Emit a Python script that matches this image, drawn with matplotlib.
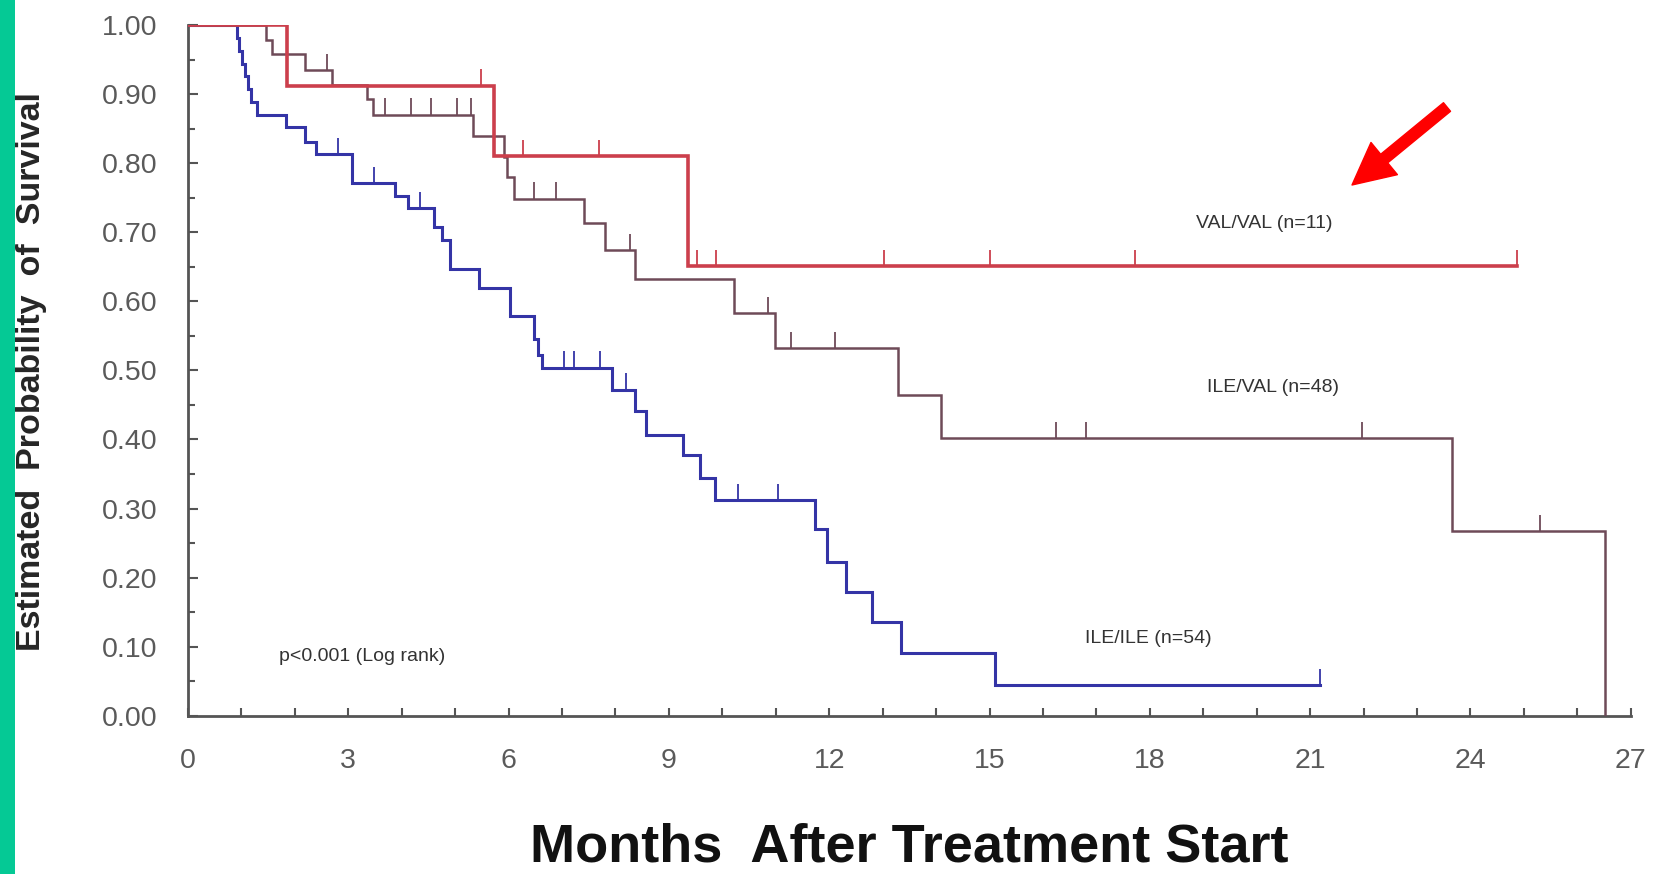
import matplotlib
matplotlib.use("Agg")
import matplotlib.pyplot as plt
import numpy as np
from matplotlib.ticker import MultipleLocator, FormatStrFormatter

# Kaplan-Meier step curves: event times (months) and survival after each step
ile_ile_t = [0, 0.91, 0.96, 1.01, 1.06, 1.12, 1.18, 1.30, 1.84, 2.20, 2.40, 3.07,
             3.88, 4.11, 4.61, 4.75, 4.91, 5.45, 6.02, 6.48, 6.55, 6.62, 7.94,
             8.37, 8.58, 9.26, 9.58, 9.86, 11.73, 11.95, 12.31, 12.81, 13.35,
             15.10, 21.18]
ile_ile_s = [1.0, 0.981, 0.963, 0.944, 0.926, 0.907, 0.889, 0.870, 0.852, 0.831,
             0.813, 0.771, 0.752, 0.735, 0.708, 0.689, 0.647, 0.620, 0.579, 0.545,
             0.522, 0.504, 0.472, 0.441, 0.407, 0.378, 0.344, 0.312, 0.271, 0.223,
             0.179, 0.136, 0.090, 0.044, 0.044]
ile_ile_cens = [2.81, 3.48, 4.34, 7.04, 7.22, 7.72, 8.19, 10.29, 11.05, 21.18]

ile_val_t = [0, 1.47, 1.57, 2.19, 2.69, 3.35, 3.47, 5.34, 5.91, 5.97, 6.11, 7.41,
             7.81, 8.37, 10.22, 10.98, 13.28, 14.10, 23.65, 26.51]
ile_val_s = [1.0, 0.979, 0.958, 0.935, 0.913, 0.893, 0.870, 0.840, 0.809, 0.780,
             0.749, 0.713, 0.674, 0.633, 0.583, 0.532, 0.465, 0.402, 0.267, 0.0]
ile_val_cens = [2.60, 3.68, 4.18, 4.55, 5.04, 5.29, 6.48, 6.89, 8.28, 10.85,
                11.28, 12.10, 16.25, 16.80, 21.97, 25.30]

val_val_t = [0, 1.85, 5.72, 9.36, 24.87]
val_val_s = [1.0, 0.912, 0.810, 0.651, 0.651]
val_val_cens = [5.48, 6.27, 7.70, 9.52, 9.89, 13.03, 15.01, 17.72, 24.87]

groups = [
    ("ILE/ILE (n=54)", ile_ile_t, ile_ile_s, ile_ile_cens, "#3434a6", 2.2, (17.97, 0.112)),
    ("ILE/VAL (n=48)", ile_val_t, ile_val_s, ile_val_cens, "#6e4a58", 1.8, (20.30, 0.476)),
    ("VAL/VAL (n=11)", val_val_t, val_val_s, val_val_cens, "#cc3f4c", 2.6, (20.15, 0.713)),
]

x_ticks = list(range(0, 28, 3))
y_ticks = [0.0, 0.1, 0.2, 0.3, 0.4, 0.5, 0.6, 0.7, 0.8, 0.9, 1.0]

W, H = 1655, 874
fig = plt.figure(figsize=(W / 100, H / 100), dpi=100)
fig.patch.set_facecolor("white")

# green strip on the left edge
fig.patches.append(plt.Rectangle((0, 0), 15 / W, 1, transform=fig.transFigure,
                                 facecolor="#05c995", edgecolor="none"))

ax = fig.add_axes([187.9 / W, 1 - 715.6 / H, (1630.8 - 187.9) / W, (715.6 - 25.3) / H])

for label, t, s, cens, col, lw, pos in groups:
    ax.step(t, s, where="post", color=col, lw=lw, solid_joinstyle="miter", zorder=3)
    t_arr = np.array(t)
    s_arr = np.array(s)
    for c in cens:
        lvl = s_arr[np.searchsorted(t_arr, c, side="right") - 1]
        ax.vlines(c, lvl, lvl + 0.024, color=col, lw=1.3, zorder=3)
    ax.text(pos[0], pos[1], label, ha="center", va="center", fontsize=14,
            family="Liberation Sans", color="#333333")

ax.text(3.26, 0.086, "p<0.001 (Log rank)", ha="center", va="center", fontsize=14,
        family="Liberation Sans", color="#333333")

ax.set_xlim(0, 27)
ax.set_ylim(0, 1.0)
ax.set_xticks(x_ticks)
ax.xaxis.set_minor_locator(MultipleLocator(1))
ax.set_yticks(y_ticks)
ax.yaxis.set_minor_locator(MultipleLocator(0.05))
ax.yaxis.set_major_formatter(FormatStrFormatter("%.2f"))

for sp in ["top", "right"]:
    ax.spines[sp].set_visible(False)
for sp in ["left", "bottom"]:
    ax.spines[sp].set_color("#555555")
    ax.spines[sp].set_linewidth(2)

ax.tick_params(axis="both", which="both", direction="in", color="#555555", width=1.5)
ax.tick_params(axis="y", which="major", length=7, pad=22)
ax.tick_params(axis="y", which="minor", length=5)
ax.tick_params(axis="x", which="both", length=6, pad=23)
for lab in ax.get_xticklabels() + ax.get_yticklabels():
    lab.set_family("Liberation Sans")
    lab.set_fontsize(20.5)
    lab.set_color("#5a5a5a")

fig.text(909 / W, 1 - 848 / H, "Months  After Treatment Start", ha="center", va="center",
         fontsize=39, fontweight="bold", family="Liberation Sans", color="#111111")
fig.text(32 / W, 1 - 372 / H, "Estimated  Probability  of  Survival", ha="center",
         va="center", rotation=90, fontsize=24.5, fontweight="bold",
         family="Liberation Sans", color="#262626")

# red pointer arrow
ax.annotate("", xy=(1352, H - 185), xycoords="figure pixels",
            xytext=(1447, H - 107), textcoords="figure pixels",
            arrowprops=dict(arrowstyle="simple,head_length=30,head_width=30,tail_width=8",
                            mutation_scale=1, color="#ff0000", shrinkA=0, shrinkB=0),
            annotation_clip=False)

fig.savefig("out.png", dpi=100)
